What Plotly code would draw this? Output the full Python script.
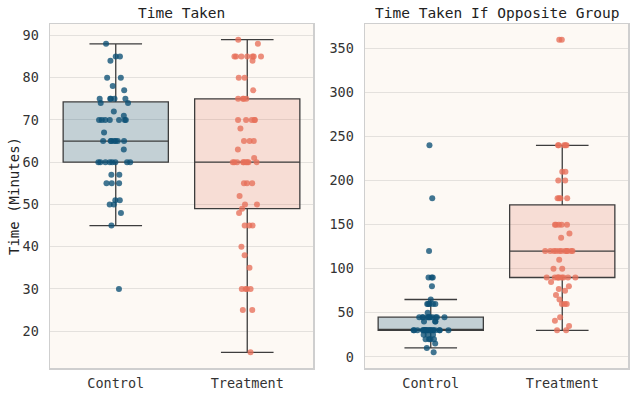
import plotly.graph_objects as go

# ---- data ----
groups = ["Control", "Treatment"]

control_time = [30, 45, 48, 50, 50, 51, 51, 55, 55, 55, 57, 57,
                60, 60, 60, 60, 60, 60, 60, 60, 63,
                65, 65, 65, 65, 65, 65, 65, 67,
                70, 70, 70, 70, 70, 70, 70, 71, 72, 74, 74,
                75, 75, 75, 75, 75, 77, 78, 80, 80, 84, 85, 85, 88]

treatment_time = [15, 25, 25, 30, 30, 30, 30, 35, 38, 40, 45, 45, 45, 48,
                  49, 50, 50, 52, 55, 55, 55,
                  60, 60, 60, 60, 60, 60, 60, 60, 60, 61, 63, 65, 65, 65, 68,
                  70, 70, 70, 70, 70, 75, 75, 75, 75, 77, 80, 80, 84,
                  85, 85, 85, 85, 85, 85, 85, 88, 89]

control_opposite = [5, 10, 15, 20, 20, 20, 20, 25, 25, 25] + [30] * 20 + \
                   [40, 40, 40] + [45] * 11 + \
                   [50, 60, 60, 60, 60, 60, 65, 80, 90, 90, 90, 120, 180, 240]

treatment_opposite = [30, 30, 35, 41, 45, 60, 60, 60, 65, 70, 75, 77, 80, 85] + \
                     [90] * 9 + [100, 100, 110] + [120] * 11 + [135, 140] + [150] * 5 + \
                     [180, 180, 180, 180, 200, 200, 210, 210,
                      240, 240, 240, 240, 240, 360, 360]

left_ticks = [20, 30, 40, 50, 60, 70, 80, 90]
right_ticks = [0, 50, 100, 150, 200, 250, 300, 350]

# ---- styles ----
FONT = "DejaVu Sans Mono"
BLUE = "#0b4f75"
RED = "#e76f5a"
BOX_FILL = {"Control": "rgba(11,79,117,0.24)", "Treatment": "rgba(226,111,90,0.20)"}
DOT = {"Control": BLUE, "Treatment": RED}
BG = "#fdf9f4"
GRID = "#e4e1dd"
FRAME = "#cfcfcf"

fig = go.Figure()


def add_box(values, group, xa, ya):
    fig.add_trace(go.Box(
        x=[group] * len(values), y=values,
        xaxis=xa, yaxis=ya,
        width=0.8, whiskerwidth=0.5,
        fillcolor=BOX_FILL[group],
        line=dict(color="#3d3d3d", width=1.3),
        boxpoints="all", jitter=0.38, pointpos=0,
        marker=dict(color=DOT[group], size=6, opacity=0.78,
                    line=dict(width=0)),
        hoverinfo="skip", showlegend=False,
    ))


add_box(control_time, "Control", "x", "y")
add_box(treatment_time, "Treatment", "x", "y")
add_box(control_opposite, "Control", "x2", "y2")
add_box(treatment_opposite, "Treatment", "x2", "y2")

W, H = 635, 398
axis_common = dict(showline=True, linecolor=FRAME, linewidth=1.5, mirror=True,
                   zeroline=False, automargin=False,
                   tickfont=dict(family=FONT, size=13.5, color="#333333"))

fig.update_layout(
    width=W, height=H,
    margin=dict(l=0, r=0, t=0, b=0, pad=0),
    paper_bgcolor="white", plot_bgcolor=BG,
    boxmode="overlay",
    font=dict(family=FONT, color="#333333"),
    xaxis=dict(domain=[50 / W, 313 / W], anchor="y", type="category",
               categoryorder="array", categoryarray=groups, range=[-0.5, 1.5],
               showgrid=False, ticks="", ticklabelstandoff=2, **axis_common),
    xaxis2=dict(domain=[365 / W, 628 / W], anchor="y2", type="category",
                categoryorder="array", categoryarray=groups, range=[-0.5, 1.5],
                showgrid=False, ticks="", ticklabelstandoff=2, **axis_common),
    yaxis=dict(domain=[30 / H, 374 / H], anchor="x", range=[11.3, 92.7],
               tickvals=left_ticks, showgrid=True, gridcolor=GRID, gridwidth=1,
               ticks="", ticklabelstandoff=7, **axis_common),
    yaxis2=dict(domain=[30 / H, 374 / H], anchor="x2", range=[-12.75, 377.75],
                tickvals=right_ticks, showgrid=True, gridcolor=GRID, gridwidth=1,
                ticks="", ticklabelstandoff=7, **axis_common),
    annotations=[
        dict(text="Time Taken", x=181.5 / W, y=1 - 13 / H, xref="paper", yref="paper",
             showarrow=False, font=dict(family=FONT, size=14.5, color="#222222"),
             xanchor="center", yanchor="middle"),
        dict(text="Time Taken If Opposite Group", x=496.5 / W, y=1 - 13 / H,
             xref="paper", yref="paper", showarrow=False,
             font=dict(family=FONT, size=14.5, color="#222222"),
             xanchor="center", yanchor="middle"),
        dict(text="Time (Minutes)", x=14 / W, y=1 - 196 / H, xref="paper", yref="paper",
             showarrow=False, textangle=-90,
             font=dict(family=FONT, size=14, color="#222222"),
             xanchor="center", yanchor="middle"),
    ],
)

fig.write_html("out.html",
               config={"displayModeBar": False, "staticPlot": True},
               post_script="document.body.style.margin='0';document.body.style.padding='0';")
